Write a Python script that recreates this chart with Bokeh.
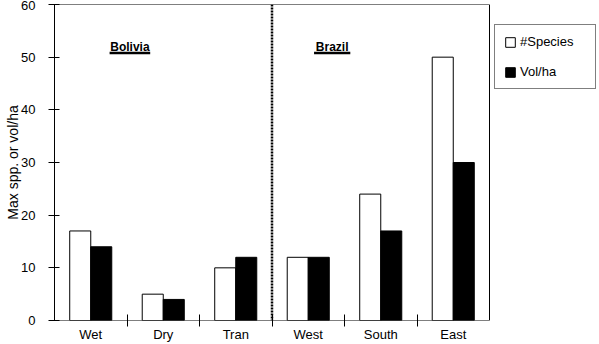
import numpy as np
from bokeh.plotting import figure
from bokeh.models import (ColumnDataSource, Range1d, FixedTicker, Span, Label,
                          Legend, LegendItem, BoxAnnotation)
from bokeh.transform import dodge
from bokeh.embed import file_html
from bokeh.resources import INLINE

categories = ["Wet", "Dry", "Tran", "West", "South", "East"]
species = [17, 5, 10, 12, 24, 50]
vol_ha = [14, 4, 12, 12, 17, 30]
y_ticks = [0, 10, 20, 30, 40, 50, 60]
y_max = 60
region_labels = ["Bolivia", "Brazil"]
region_label_x = [1.04, 3.83]
region_label_y = 51.9
region_half_width = [0.28, 0.25]
divider_at = 3

FONT = "Liberation Sans"
n = len(categories)
FRAME_W = 545      # pixels from left axis to right edge of page
PLOT_W = 435       # pixels covered by the bar area

centers = np.arange(n) + 0.5
src = ColumnDataSource(dict(x=centers, sp=species, vol=vol_ha))

p = figure(width=599, height=344, output_backend="svg", toolbar_location=None,
           x_range=Range1d(0, n * FRAME_W / PLOT_W), y_range=Range1d(0, y_max),
           min_border_left=54, min_border_right=0, min_border_top=4,
           min_border_bottom=24)
p.outline_line_color = None
p.xgrid.visible = False
p.ygrid.visible = False
p.background_fill_color = "white"
p.border_fill_color = "white"

p.add_layout(BoxAnnotation(left=0, right=n, bottom=0, top=y_max,
                           fill_alpha=0, line_color="black", line_width=1,
                           line_alpha=1))

bw = 0.29
r1 = p.vbar(x=dodge("x", -bw / 2), top="sp", width=bw, source=src,
            fill_color="white", line_color="black", line_width=1)
r2 = p.vbar(x=dodge("x", bw / 2), top="vol", width=bw, source=src,
            fill_color="black", line_color="black", line_width=1)

# x axis: labels at centres, ticks at boundaries
xa = p.xaxis[0]
xa.ticker = FixedTicker(ticks=list(centers),
                        minor_ticks=list(np.arange(1, n)))
xa.major_label_overrides = {float(c): lab for c, lab in zip(centers, categories)}
xa.major_tick_in = 0
xa.major_tick_out = 0
xa.minor_tick_in = 6
xa.minor_tick_out = 6
xa.minor_tick_line_color = "black"
xa.major_label_standoff = 0
xa.major_label_text_font = FONT
xa.major_label_text_font_size = "13px"
xa.major_label_text_color = "black"
xa.axis_line_color = None

ya = p.yaxis[0]
ya.ticker = FixedTicker(ticks=y_ticks)
ya.minor_tick_line_color = None
ya.major_tick_in = 5
ya.major_tick_out = 6
ya.major_label_standoff = 13
ya.major_label_text_font = FONT
ya.major_label_text_font_size = "13px"
ya.major_label_text_color = "black"
ya.axis_label = "Max spp. or vol/ha"
ya.axis_label_text_font = FONT
ya.axis_label_text_font_size = "14px"
ya.axis_label_text_font_style = "normal"
ya.axis_label_text_color = "black"
ya.axis_label_text_line_height = 0.9
ya.axis_label_standoff = -3
ya.axis_line_color = "black"

p.add_layout(Span(location=divider_at, dimension="height", line_color="black",
                  line_width=2.5, line_dash="2 1"))

for name, lx in zip(region_labels, region_label_x):
    p.add_layout(Label(x=lx, y=region_label_y, text=name, text_font=FONT,
                       text_font_size="12px", text_font_style="bold",
                       text_align="center", text_baseline="alphabetic",
                       text_color="black"))
ul_y = 50.8
p.segment(x0=[lx - hw for lx, hw in zip(region_label_x, region_half_width)],
          x1=[lx + hw for lx, hw in zip(region_label_x, region_half_width)],
          y0=[ul_y] * 2, y1=[ul_y] * 2, line_color="black", line_width=2.5)

legend = Legend(items=[LegendItem(label="#Species", renderers=[r1]),
                       LegendItem(label="Vol/ha", renderers=[r2])],
                location=(440, 231))
legend.border_line_color = "black"
legend.border_line_width = 1
legend.background_fill_color = "white"
legend.background_fill_alpha = 1
legend.glyph_width = 12
legend.glyph_height = 12
legend.label_height = 12
legend.label_width = 66
legend.label_standoff = 4
legend.spacing = 15
legend.padding = 9
legend.margin = 0
legend.label_text_font = FONT
legend.label_text_font_size = "13px"
legend.label_text_color = "black"
p.add_layout(legend)

open("out.html", "w").write(file_html(p, INLINE))
